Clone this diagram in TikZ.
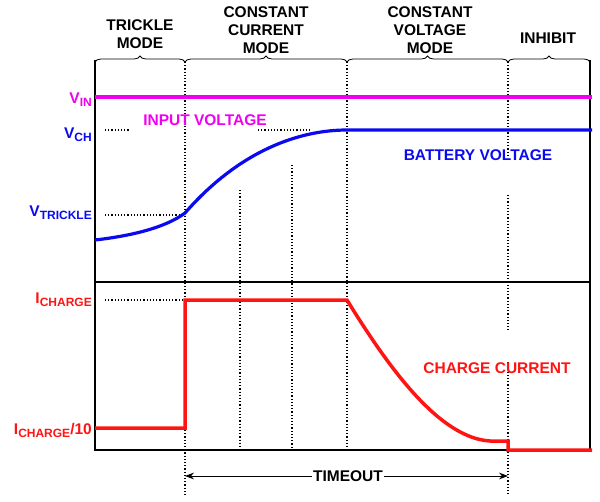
\documentclass[tikz,border=0pt]{standalone}
\usepackage{fontspec}
\setmainfont{Liberation Sans}
\usetikzlibrary{decorations.pathreplacing,arrows.meta}
\definecolor{mag}{RGB}{240,0,240}
\definecolor{blu}{RGB}{10,10,240}
\definecolor{rd}{RGB}{255,20,20}
\newcommand{\sbs}[1]{{\fontsize{12}{12}\selectfont\raisebox{-3pt}{#1}}}
\begin{document}
\begin{tikzpicture}[x=1pt,y=-1pt,
  lbl/.style={font=\bfseries\fontsize{15.5}{18}\selectfont,align=center,inner sep=1pt},
  dots/.style={dotted,line width=1.2pt},
  brc/.style={decorate,decoration={brace,amplitude=6pt},line width=0.8pt}]
\useasboundingbox (0,0) rectangle (600,501);
% frame
\draw[line width=2pt] (95,60) -- (95,450) -- (590,450) -- (590,60);
\draw[line width=1.2pt] (95,282) -- (590,282);
% dotted verticals
\draw[dots] (185,62) -- (185,495);
\draw[dots] (347,62) -- (347,450);
\draw[dots] (508,62) -- (508,155) (508,195) -- (508,330) (508,362) -- (508,495);
\draw[dots] (240,190) -- (240,450);
\draw[dots] (292,165) -- (292,450);
% horizontal dotted
\draw[dots] (105,130) -- (130,130) (258,130) -- (310,130);
\draw[dots] (105,215) -- (185,215);
\draw[dots] (105,300) -- (185,300);
% braces
\draw[brc] (95,62) -- (185,62);
\draw[brc] (185,62) -- (347,62);
\draw[brc] (347,62) -- (508,62);
\draw[brc] (508,62) -- (590,62);
% mode labels
\node[lbl] (tm) at (140,34) {TRICKLE\\MODE};
\node[lbl] (ccm) at (266,30) {CONSTANT\\CURRENT\\MODE};
\node[lbl] (cvm) at (430,30) {CONSTANT\\VOLTAGE\\MODE};
\node[lbl] (inh) at (548,38) {INHIBIT};
% curves
\draw[mag,line width=3.5pt] (95,97) -- (592,97);
\draw[blu,line width=3.2pt] (95,240) .. controls (130,236) and (165,228) .. (185,213)
  .. controls (240,150) and (300,130) .. (347,130) -- (592,130);
\draw[rd,line width=3.5pt] (95,428) -- (185,428) -- (185,300) -- (347,300)
  .. controls (390,370) and (440,438) .. (490,441) -- (508,441) -- (508,450) -- (592,450);
% left labels
\node[lbl,mag,anchor=east] (vin) at (93,100) {V\sbs{IN}};
\node[lbl,blu,anchor=east] (vch) at (93,135) {V\sbs{CH}};
\node[lbl,blu,anchor=east] (vtr) at (93,213) {V\sbs{TRICKLE}};
\node[lbl,rd,anchor=east] (ich) at (93,300) {I\sbs{CHARGE}};
\node[lbl,rd,anchor=east] (ich10) at (93,430) {I\sbs{CHARGE}/10};
% curve labels
\node[lbl,mag] (iv) at (205,120) {INPUT VOLTAGE};
\node[lbl,blu] (bv) at (478,155) {BATTERY VOLTAGE};
\node[lbl,rd] (cc) at (497,368) {CHARGE CURRENT};
% timeout
\node[lbl] (to) at (348,476) {TIMEOUT};
\coordinate (tl) at (185,476);
\coordinate (tr) at (508,476);
\draw[-{Stealth[length=9pt]},line width=1pt] (to.west) -- (tl);
\draw[-{Stealth[length=9pt]},line width=1pt] (to.east) -- (tr);
\end{tikzpicture}
\end{document}
